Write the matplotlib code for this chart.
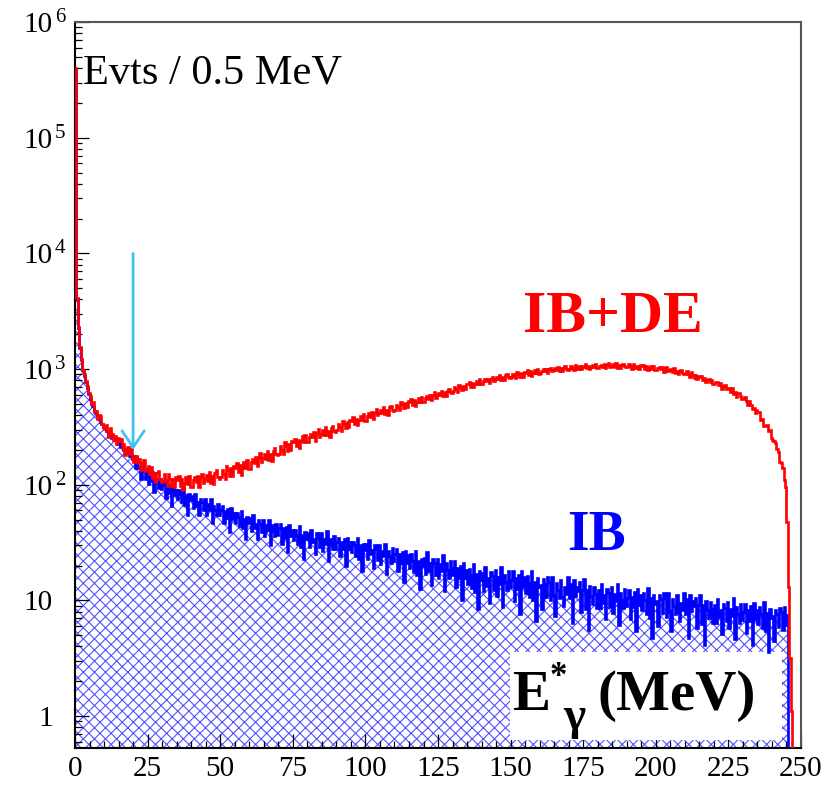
import numpy as np
import matplotlib
matplotlib.use('Agg')
import matplotlib.pyplot as plt
from matplotlib.ticker import MultipleLocator, LogLocator, NullFormatter
from matplotlib.patches import Rectangle
import matplotlib.transforms as mtransforms

plt.rcParams['font.family'] = ['Liberation Serif', 'DejaVu Serif']
plt.rcParams['hatch.linewidth'] = 0.8

# photon energy spectrum, counts per 0.5 MeV bin starting at 0 MeV
bin_width = 0.5

ib_de_counts = [
    400000, 4150, 2330, 1540, 1220, 990, 905, 785, 720, 625,
    588, 504, 524, 428, 434, 369, 400, 391, 338, 314,
    302, 330, 295, 259, 309, 275, 244, 264, 226, 252,
    238, 248, 206, 224, 182, 199, 212, 183, 203, 167,
    158, 173, 178, 156, 168, 135, 154, 163, 132, 137,
    145, 124, 143, 115, 126, 105, 127, 131, 113, 106,
    107, 124, 110, 97, 125, 112, 97, 113, 95, 116,
    110, 120, 98, 112, 91, 104, 117, 101, 118, 96,
    95, 109, 117, 105, 120, 95, 116, 125, 104, 112,
    122, 108, 130, 104, 119, 101, 126, 133, 117, 112,
    116, 135, 123, 112, 146, 133, 118, 139, 118, 146,
    140, 155, 128, 149, 122, 141, 158, 140, 165, 137,
    137, 156, 167, 153, 173, 144, 171, 188, 158, 170,
    184, 167, 196, 165, 183, 160, 197, 208, 185, 180,
    186, 215, 200, 184, 232, 216, 196, 225, 199, 238,
    232, 251, 217, 246, 209, 238, 262, 236, 271, 232,
    235, 260, 276, 257, 284, 240, 281, 302, 261, 277,
    297, 271, 314, 267, 293, 260, 310, 321, 294, 284,
    297, 335, 314, 292, 358, 336, 310, 347, 314, 366,
    356, 384, 338, 374, 328, 363, 397, 364, 409, 356,
    359, 394, 414, 389, 425, 373, 421, 450, 400, 421,
    445, 415, 467, 410, 444, 404, 466, 484, 447, 437,
    445, 491, 467, 443, 518, 495, 465, 508, 467, 527,
    516, 547, 489, 541, 482, 524, 560, 522, 576, 520,
    519, 563, 590, 556, 601, 537, 599, 634, 568, 597,
    626, 595, 649, 587, 629, 584, 653, 677, 632, 624,
    643, 702, 668, 640, 735, 706, 663, 718, 667, 745,
    736, 779, 705, 762, 694, 743, 795, 748, 815, 736,
    739, 791, 820, 785, 829, 754, 823, 861, 792, 821,
    859, 814, 886, 806, 853, 799, 881, 902, 855, 834,
    847, 912, 872, 833, 943, 903, 862, 921, 862, 947,
    924, 974, 887, 956, 876, 927, 978, 926, 996, 915,
    919, 970, 992, 957, 1009, 925, 997, 1029, 964, 987,
    1021, 974, 1047, 961, 1014, 958, 1031, 1055, 1008, 990,
    1004, 1067, 1018, 979, 1084, 1043, 994, 1058, 997, 1072,
    1053, 1096, 1015, 1069, 998, 1041, 1095, 1034, 1099, 1017,
    1018, 1072, 1094, 1052, 1107, 1012, 1087, 1120, 1047, 1069,
    1102, 1049, 1125, 1028, 1082, 1018, 1093, 1115, 1061, 1040,
    1050, 1111, 1055, 1010, 1114, 1069, 1014, 1074, 1009, 1079,
    1056, 1095, 1010, 1059, 984, 1023, 1072, 1007, 1067, 982,
    980, 1026, 1042, 997, 1043, 948, 1014, 1038, 965, 980,
    1005, 952, 1015, 924, 968, 905, 968, 982, 931, 907,
    910, 958, 903, 859, 940, 896, 843, 886, 826, 877,
    853, 879, 804, 837, 772, 797, 829, 773, 812, 747,
    739, 767, 770, 730, 755, 679, 718, 728, 668, 671,
    688, 640, 682, 609, 630, 578, 623, 626, 580, 554,
    548, 570, 527, 485, 531, 491, 452, 465, 420, 446,
    425, 425, 363, 371, 319, 324, 327, 290, 299, 255,
    242, 240, 231, 202, 193, 157, 153, 140, 111, 96,
    48, 13, 3.2, 1.1, 0, 0, 0, 0, 0, 0,
]

ib_counts = [
    395000, 4050, 2260, 1510, 1190, 975, 870, 770, 690, 610,
    548, 497, 476, 436, 421, 392, 377, 350, 338, 316,
    310, 291, 293, 273, 281, 255, 262, 242, 246, 226,
    230, 213, 218, 198, 205, 188, 193, 178, 182, 166,
    176, 141, 174, 139, 145, 112, 144, 132, 112, 133,
    101, 119, 108, 129, 86, 113, 103, 93, 112, 92,
    99, 108, 77, 98, 85, 99, 66, 102, 82, 91,
    76, 91, 83, 71, 94, 67, 82, 55, 83, 74,
    80, 63, 84, 66, 71, 55, 76, 71, 60, 75,
    55, 68, 61, 75, 47, 66, 60, 55, 68, 55,
    60, 66, 47, 59, 52, 62, 39, 63, 51, 57,
    47, 57, 53, 44, 59, 42, 51, 34, 53, 47,
    52, 40, 55, 42, 46, 34, 50, 46, 39, 50,
    36, 45, 41, 50, 30, 45, 40, 36, 46, 37,
    42, 46, 31, 42, 35, 43, 26, 45, 36, 41,
    33, 41, 37, 31, 44, 29, 37, 23, 39, 34,
    38, 29, 41, 32, 34, 25, 38, 35, 29, 38,
    27, 34, 31, 40, 22, 34, 31, 28, 36, 28,
    32, 35, 24, 32, 28, 34, 20, 35, 28, 32,
    26, 32, 30, 24, 35, 23, 30, 18, 31, 27.5,
    30.5, 23, 33, 25, 27.5, 19, 30, 28, 22.5, 30,
    20.5, 27, 24, 31, 17, 27, 24, 21, 28.5, 22,
    25, 28, 18, 25, 21, 26, 14.5, 27, 21, 24.5,
    19, 25, 22, 17.5, 27, 16.5, 22, 12.5, 23, 20,
    23.5, 17, 26, 18, 21, 13.5, 23, 21, 16.5, 23,
    15.5, 20.5, 18, 24.5, 12, 21, 18.5, 15.5, 22, 16.5,
    19, 22, 13, 19, 15.5, 20, 10, 21, 15.5, 18.5,
    13.8, 18.8, 16.6, 12.9, 20.6, 11.9, 16.8, 8.4, 17.9, 15.1,
    17.2, 12, 19.4, 13.4, 15.5, 9.6, 17.6, 16.2, 12.4, 18.2,
    10.9, 16, 13.8, 19.6, 8.7, 16.7, 14.5, 12.3, 18.1, 13,
    15.1, 17.9, 9.9, 15.5, 12.6, 16.7, 7.6, 17.9, 13, 15.8,
    11.6, 16.2, 14.2, 10.7, 18, 10, 14.5, 6.6, 15.7, 13,
    13.5, 8.4, 15.4, 14, 10.8, 15.8, 14.5, 10, 16.1, 11.2,
    7.4, 14.1, 12.2, 10.4, 15.1, 10.8, 9, 13.1, 11.3, 15.9,
    10.6, 14, 6.4, 15.1, 11, 13.2, 12.1, 14.3, 8, 12.4,
    15.3, 8.4, 12.3, 5.6, 13.3, 11, 9.4, 13.1, 11.4, 8.6,
    12.4, 8.6, 13.9, 9.5, 11.1, 6.9, 12.6, 11.6, 8.8, 13,
    7.8, 11.3, 9.8, 13.8, 6.1, 11.7, 10.1, 8.6, 12.5, 9,
    10.5, 12.4, 6.9, 10.8, 8.8, 11.8, 5.4, 12.6, 9.2, 11.1,
    8.2, 11.5, 10, 7.6, 12.9, 7.1, 10.4, 4.7, 11.2, 9.3,
    9.8, 6, 11.1, 10.2, 7.8, 11.5, 10.5, 7.2, 11.7, 8.1,
    5.4, 10.3, 8.9, 7.6, 11.1, 7.9, 6.6, 9.6, 8.2, 11.6,
    7.7, 10.3, 4.7, 11.1, 8.1, 9.8, 8.9, 10.5, 5.8, 9.1,
    11.2, 6.2, 9.1, 4.1, 9.9, 8.2, 7, 9.7, 8.4, 6.4,
    9.2, 6.4, 10.3, 7.2, 8.3, 5.1, 9.4, 8.6, 6.6, 9.7,
    5.8, 8.5, 7.3, 10.4, 4.6, 8.8, 7.6, 6.4, 9.4, 6.8,
    7.9, 9.3, 5.2, 8.2, 6.7, 8.9, 4.1, 9.5, 6.9, 8.3,
    6.2, 8.7, 7.6, 5.8, 9.7, 5.4, 7.8, 3.6, 8.4, 7,
    7.4, 4.5, 8.3, 7.6, 5.9, 8.6, 7.9, 5.5, 8.8, 6.1,
    7.5, 0, 0, 0, 0, 0, 0, 0, 0, 0,
]

y_tick_values = [1, 10, 1e2, 1e3, 1e4, 1e5, 1e6]
y_tick_labels = ['1', '10', '10', '10', '10', '10', '10']
y_tick_exponents = ['', '', '2', '3', '4', '5', '6']

cut_energy = 20      # MeV, arrow position
arrow_top = 1e4
arrow_tip = 200

red = np.array(ib_de_counts, dtype=float)
blue = np.array(ib_counts, dtype=float)
edges = np.arange(len(red) + 1) * bin_width
floor = 1e-3
red_plot = np.where(red > 0, red, floor)
blue_plot = np.where(blue > 0, blue, floor)

fig = plt.figure(figsize=(8.31, 7.85), dpi=100)
ax = fig.add_axes([0.0903, 0.0471, 0.8736, 0.9248])

# hatched IB area
ax.stairs(blue_plot, edges, baseline=floor, fill=True, facecolor='none',
          edgecolor='#5252ff', linewidth=0, hatch='xxx', zorder=1)
ax.stairs(blue_plot, edges, baseline=None, color='#0000ff', linewidth=1.9, zorder=3)
ax.stairs(red_plot, edges, baseline=None, color='#ff0000', linewidth=1.9, zorder=3.5)

ax.annotate('', xy=(cut_energy, arrow_tip), xytext=(cut_energy, arrow_top),
            arrowprops=dict(arrowstyle='->,head_length=0.6,head_width=0.4',
                            color='#3fc3f3', lw=2, mutation_scale=20,
                            shrinkA=0, shrinkB=0), zorder=4)

ax.set_yscale('log')
ax.set_xlim(0, 250)
ax.set_ylim(0.53, 1e6)

ax.xaxis.set_major_locator(MultipleLocator(25))
ax.xaxis.set_minor_locator(MultipleLocator(5))
ax.set_yticks(y_tick_values)
ax.set_yticklabels(y_tick_labels)
ax.yaxis.set_minor_locator(LogLocator(base=10, subs=np.arange(2, 10), numticks=20))
ax.yaxis.set_minor_formatter(NullFormatter())

ax.tick_params(axis='both', which='both', direction='in', top=False, right=False)
ax.tick_params(axis='both', which='major', length=10, width=0.9, labelsize=21)
ax.tick_params(axis='both', which='minor', length=5, width=0.9)
ax.tick_params(axis='y', which='major', pad=16)
ax.tick_params(axis='x', which='major', pad=6)

for s in ['left', 'bottom']:
    ax.spines[s].set_color('black')
    ax.spines[s].set_linewidth(1.5)
for s in ['top', 'right']:
    ax.spines[s].set_color('#555555')
    ax.spines[s].set_linewidth(1.5)

# exponents of the y tick labels
trans = mtransforms.blended_transform_factory(ax.transAxes, ax.transData)
for val, ex in zip(y_tick_values, y_tick_exponents):
    if ex:
        ax.text(-0.0275, val, ex, transform=trans, ha='left', va='baseline',
                fontsize=15, clip_on=False)

ax.text(0.011, 0.916, 'Evts / 0.5 MeV', transform=ax.transAxes,
        fontsize=30.5, ha='left', va='baseline', zorder=5)
ax.text(0.741, 0.573, 'IB+DE', transform=ax.transAxes, color='#ff0000',
        fontsize=43, fontweight='bold', ha='center', va='baseline', zorder=5)
ax.text(0.678, 0.273, 'IB', transform=ax.transAxes, color='#0000ff',
        fontsize=40, fontweight='bold', ha='left', va='baseline', zorder=5)

# x-axis title in a white box
ax.add_patch(Rectangle((0.599, 0.011), 0.375, 0.121, transform=ax.transAxes,
                       facecolor='white', edgecolor='none', zorder=2.5))
ax.text(0.602, 0.052, 'E', transform=ax.transAxes, fontsize=41,
        fontweight='bold', ha='left', va='baseline', zorder=5)
ax.text(0.654, 0.085, '*', transform=ax.transAxes, fontsize=25,
        fontweight='bold', ha='left', va='baseline', zorder=5)
ax.text(0.672, 0.026, 'γ', transform=ax.transAxes, fontsize=34,
        fontweight='bold', ha='left', va='baseline', zorder=5)
ax.text(0.719, 0.052, '(MeV)', transform=ax.transAxes, fontsize=41,
        fontweight='bold', ha='left', va='baseline', zorder=5)

fig.savefig('out.png', dpi=100)
